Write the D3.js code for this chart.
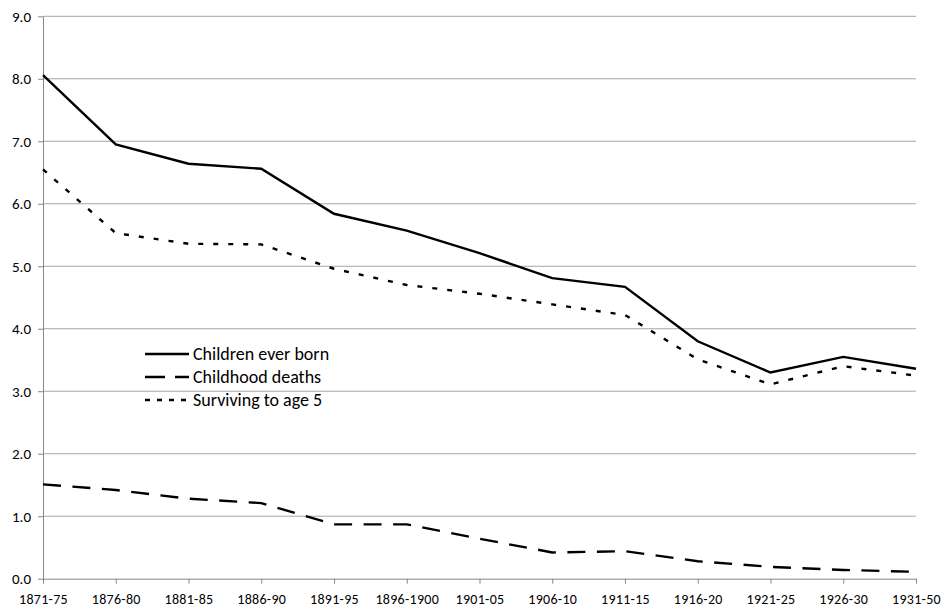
<!DOCTYPE html>
<html>
<head>
<meta charset="utf-8">
<script src="https://cdn.jsdelivr.net/npm/d3@7"></script>
<style>
	body { margin: 0; background: #ffffff; }
	text { font-family: Carlito, "Open Sans", "Noto Sans", sans-serif; fill: #000000; }
</style>
</head>
<body>
<svg id="svgarea" width="944" height="609"></svg>
<script>
// periods on the x axis
const periods		= ['1871-75', '1876-80', '1881-85', '1886-90', '1891-95', '1896-1900',
					   '1901-05', '1906-10', '1911-15', '1916-20', '1921-25', '1926-30', '1931-50'];
const everBorn		= [8.06, 6.95, 6.64, 6.56, 5.84, 5.57, 5.21, 4.81, 4.67, 3.80, 3.30, 3.55, 3.36];
const deaths		= [1.51, 1.42, 1.28, 1.21, 0.87, 0.87, 0.64, 0.42, 0.44, 0.28, 0.19, 0.14, 0.11];
const surviving		= [6.55, 5.53, 5.36, 5.35, 4.96, 4.70, 4.56, 4.39, 4.22, 3.51, 3.11, 3.40, 3.25];
const yTicks		= [0, 1, 2, 3, 4, 5, 6, 7, 8, 9];
const seriesNames	= ['Children ever born', 'Childhood deaths', 'Surviving to age 5'];
const dashes		= [null, '18,11.5', '5,10'];
const legendDashes	= [null, '20,10', '5,7'];

var svg = d3.select('#svgarea');
var plotLeft = 43, plotRight = 916, plotTop = 16.3, plotBottom = 578.7;

var x = d3.scalePoint().domain(periods).range([plotLeft, plotRight]);
var y = d3.scaleLinear().domain([0, 9]).range([plotBottom, plotTop]);

// horizontal gridlines
svg.append('g')
	.selectAll('line')
	.data(yTicks.slice(1))
	.join('line')
	.attr('x1', plotLeft).attr('x2', plotRight)
	.attr('y1', d => y(d)).attr('y2', d => y(d))
	.attr('stroke', '#a6a6a6').attr('stroke-width', 1);

// y axis
var yAxis = svg.append('g')
	.attr('transform', 'translate(' + plotLeft + ',0)')
	.call(d3.axisLeft(y).tickValues(yTicks).tickFormat(d3.format('.1f')).tickSize(5).tickSizeOuter(0).tickPadding(7));
yAxis.select('.domain').attr('stroke', '#868686');
yAxis.selectAll('.tick line').attr('stroke', '#868686');
yAxis.selectAll('text').style('font-size', '15px');

// x axis
var xAxis = svg.append('g')
	.attr('transform', 'translate(0,' + plotBottom + ')')
	.call(d3.axisBottom(x).tickSize(5).tickSizeOuter(0));
xAxis.select('.domain').attr('stroke', '#868686');
xAxis.selectAll('.tick line').attr('stroke', '#868686');
xAxis.selectAll('text')
	.attr('y', 25.5).attr('dy', 0)
	.style('font-size', '14px')
	.style('letter-spacing', '0.3px');

// lines
var line = d3.line().x((d, i) => x(periods[i])).y(d => y(d));
[everBorn, deaths, surviving].forEach(function(values, i){
	svg.append('path')
		.datum(values)
		.attr('d', line)
		.attr('fill', 'none')
		.attr('stroke', '#000000')
		.attr('stroke-width', 2.4)
		.attr('stroke-dasharray', dashes[i]);
});

// legend
var legend = svg.append('g').attr('transform', 'translate(145,354)');
seriesNames.forEach(function(name, i){
	var g = legend.append('g').attr('transform', 'translate(0,' + (i * 23) + ')');
	g.append('line')
		.attr('x1', 0).attr('x2', 44).attr('y1', 0).attr('y2', 0)
		.attr('stroke', '#000000').attr('stroke-width', 2.4)
		.attr('stroke-dasharray', legendDashes[i]);
	g.append('text')
		.attr('x', 48).attr('y', 0).attr('dy', '0.35em')
		.style('font-size', '18px')
		.text(name);
});
</script>
</body>
</html>
